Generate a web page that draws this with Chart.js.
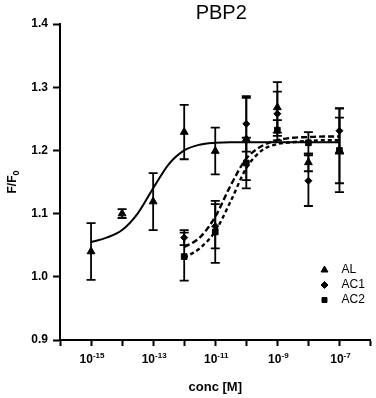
<!DOCTYPE html>
<html>
<head>
<meta charset="utf-8">
<script src="https://cdn.jsdelivr.net/npm/chart.js@4.4.1/dist/chart.umd.min.js"></script>
<style>
    html, body { margin: 0; padding: 0; background: #fff; }
    #wrap { width: 376px; height: 398px; position: relative; }
</style>
</head>
<body>
<div id="wrap"><canvas id="graficoCanvas"></canvas></div>
<script>
// ================= DATA (x = log10 of conc [M]) =================
const logConcAL = [-15, -14, -13, -12, -11, -10, -9, -8, -7];
const valuesAL  = [1.040, 1.100, 1.119, 1.229, 1.199, 1.218, 1.268, 1.181, 1.200];
const errorsAL  = [0.045, 0.007, 0.045, 0.043, 0.037, 0.065, 0.040, 0.014, 0.066];

const logConcAC = [-12, -11, -10, -9, -8, -7];
const valuesAC1 = [1.062, 1.080, 1.242, 1.258, 1.152, 1.231];
const errorsAC1 = [0.012, 0.035, 0.044, 0.035, 0.040, 0.036];
const valuesAC2 = [1.032, 1.071, 1.180, 1.232, 1.212, 1.200];
const errorsAC2 = [0.038, 0.049, 0.040, 0.016, 0.017, 0.052];

// fitted curves, every half decade
const curveLogAL = [-15, -14.5, -14, -13.5, -13, -12.5, -12, -11.5, -11, -10.5, -10, -9, -8, -7];
const curveAL    = [1.055, 1.062, 1.074, 1.100, 1.140, 1.178, 1.200, 1.209, 1.212, 1.213, 1.213, 1.213, 1.213, 1.213];
const curveLogAC = [-12, -11.5, -11, -10.5, -10, -9.5, -9, -8.5, -8, -7.5, -7];
const curveAC1   = [1.047, 1.062, 1.095, 1.145, 1.187, 1.207, 1.216, 1.220, 1.221, 1.222, 1.222];
const curveAC2   = [1.030, 1.045, 1.072, 1.120, 1.172, 1.200, 1.210, 1.213, 1.215, 1.216, 1.216];

const labelledExponents = [-15, -13, -11, -9, -7];
const seriesNames = ['AL', 'AC1', 'AC2'];
const seriesStyles = ['triangle', 'rectRot', 'rect'];

const pts = (xs, ys) => xs.map((x, i) => ({ x: x, y: ys[i] }));

const FONT = '"Liberation Sans", Arial, Helvetica, sans-serif';
Chart.defaults.font.family = FONT;
Chart.defaults.color = '#000';

// ================= PLUGINS =================
const errorBars = {
    id: 'errorBars',
    beforeDatasetsDraw(chart) {
        const { ctx, scales: { x, y } } = chart;
        ctx.save();
        ctx.strokeStyle = '#000';
        ctx.lineWidth = 1.8;
        chart.data.datasets.forEach(ds => {
            if (!ds.errors) return;
            ds.data.forEach((p, i) => {
                const px = x.getPixelForValue(p.x);
                const top = y.getPixelForValue(p.y + ds.errors[i]);
                const bot = y.getPixelForValue(p.y - ds.errors[i]);
                ctx.beginPath();
                ctx.moveTo(px, top); ctx.lineTo(px, bot);
                ctx.moveTo(px - 4.5, top); ctx.lineTo(px + 4.5, top);
                ctx.moveTo(px - 4.5, bot); ctx.lineTo(px + 4.5, bot);
                ctx.stroke();
            });
        });
        ctx.restore();
    }
};

const extras = {
    id: 'extras',
    afterDraw(chart) {
        const { ctx, chartArea, scales: { x } } = chart;
        ctx.save();
        ctx.fillStyle = '#000';

        // title
        ctx.font = '20px ' + FONT;
        ctx.textAlign = 'center';
        ctx.textBaseline = 'middle';
        ctx.fillText('PBP2', (chartArea.left + chartArea.right) / 2 + 6, 13);

        // y title F/F0 (subscript 0)
        ctx.save();
        ctx.translate(16, (chartArea.top + chartArea.bottom) / 2);
        ctx.rotate(-Math.PI / 2);
        ctx.textAlign = 'left';
        ctx.textBaseline = 'alphabetic';
        ctx.font = 'bold 12px ' + FONT;
        const wF = ctx.measureText('F/F').width;
        ctx.font = 'bold 9px ' + FONT;
        const w0 = ctx.measureText('0').width;
        const sx = -(wF + w0) / 2;
        ctx.font = 'bold 12px ' + FONT;
        ctx.fillText('F/F', sx, 0);
        ctx.font = 'bold 9px ' + FONT;
        ctx.fillText('0', sx + wF, 3);
        ctx.restore();

        // x tick labels 10^n
        ctx.textAlign = 'left';
        ctx.textBaseline = 'alphabetic';
        labelledExponents.forEach(e => {
            const px = x.getPixelForValue(e);
            ctx.font = 'bold 12px ' + FONT;
            const w1 = ctx.measureText('10').width;
            ctx.font = 'bold 8px ' + FONT;
            const w2 = ctx.measureText(String(e)).width;
            const x0 = px - (w1 + w2) / 2 + 1;
            ctx.font = 'bold 12px ' + FONT;
            ctx.fillText('10', x0, chartArea.bottom + 23);
            ctx.font = 'bold 8px ' + FONT;
            ctx.fillText(String(e), x0 + w1, chartArea.bottom + 18);
        });

        // legend
        const lx = chartArea.right - 46;
        const ly = chartArea.bottom - 70;
        seriesNames.forEach((name, i) => {
            const yy = ly + i * 15;
            Chart.helpers.drawPoint(ctx, {
                pointStyle: seriesStyles[i],
                radius: seriesStyles[i] === 'triangle' ? 4 : 3.5,
                rotation: 0, borderWidth: 1
            }, lx, yy);
            ctx.fillStyle = '#000';
            ctx.font = '12px ' + FONT;
            ctx.textBaseline = 'middle';
            ctx.fillText(name, lx + 17, yy);
        });
        ctx.restore();
    }
};

// ================= CHART =================
const ctx = document.getElementById('graficoCanvas').getContext('2d');
const marker = { showLine: false, backgroundColor: '#000', borderColor: '#000', borderWidth: 1 };

new Chart(ctx, {
    type: 'scatter',
    data: {
        datasets: [
            { ...marker, label: 'AL', data: pts(logConcAL, valuesAL), errors: errorsAL, pointStyle: 'triangle', pointRadius: 4.5 },
            { ...marker, label: 'AC1', data: pts(logConcAC, valuesAC1), errors: errorsAC1, pointStyle: 'rectRot', pointRadius: 3.5 },
            { ...marker, label: 'AC2', data: pts(logConcAC, valuesAC2), errors: errorsAC2, pointStyle: 'rect', pointRadius: 4 },
            { type: 'line', data: pts(curveLogAL, curveAL), borderColor: '#000', borderWidth: 2,
              pointRadius: 0, cubicInterpolationMode: 'monotone', fill: false },
            { type: 'line', data: pts(curveLogAC, curveAC1), borderColor: '#000', borderWidth: 2.4,
              borderDash: [6, 3], pointRadius: 0, cubicInterpolationMode: 'monotone', fill: false },
            { type: 'line', data: pts(curveLogAC, curveAC2), borderColor: '#000', borderWidth: 2.4,
              borderDash: [4, 3], pointRadius: 0, cubicInterpolationMode: 'monotone', fill: false }
        ]
    },
    options: {
        responsive: true,
        maintainAspectRatio: false,
        animation: false,
        devicePixelRatio: 1,
        layout: { padding: { top: 24, right: 4, bottom: 0, left: 0 } },
        scales: {
            x: {
                type: 'linear', min: -16, max: -6,
                ticks: { stepSize: 1, callback: () => '' },
                grid: { drawOnChartArea: false, drawTicks: true, tickLength: 6, tickWidth: 2, tickColor: '#000' },
                border: { display: true, color: '#000', width: 2 },
                title: { display: true, text: 'conc [M]', font: { size: 13, weight: 'bold' }, color: '#000', padding: { top: 0, bottom: 3 } },
                afterFit(scale) { scale.height = 58; }
            },
            y: {
                min: 0.9, max: 1.4,
                ticks: { stepSize: 0.1, font: { size: 12, weight: 'bold' }, color: '#000', padding: 5,
                         callback: v => v.toFixed(1) },
                grid: { drawOnChartArea: false, drawTicks: true, tickLength: 7, tickWidth: 2, tickColor: '#000' },
                border: { display: true, color: '#000', width: 2 },
                afterFit(scale) { scale.width = 60; }
            }
        },
        plugins: { legend: { display: false }, tooltip: { enabled: false } }
    },
    plugins: [errorBars, extras]
});
</script>
</body>
</html>
